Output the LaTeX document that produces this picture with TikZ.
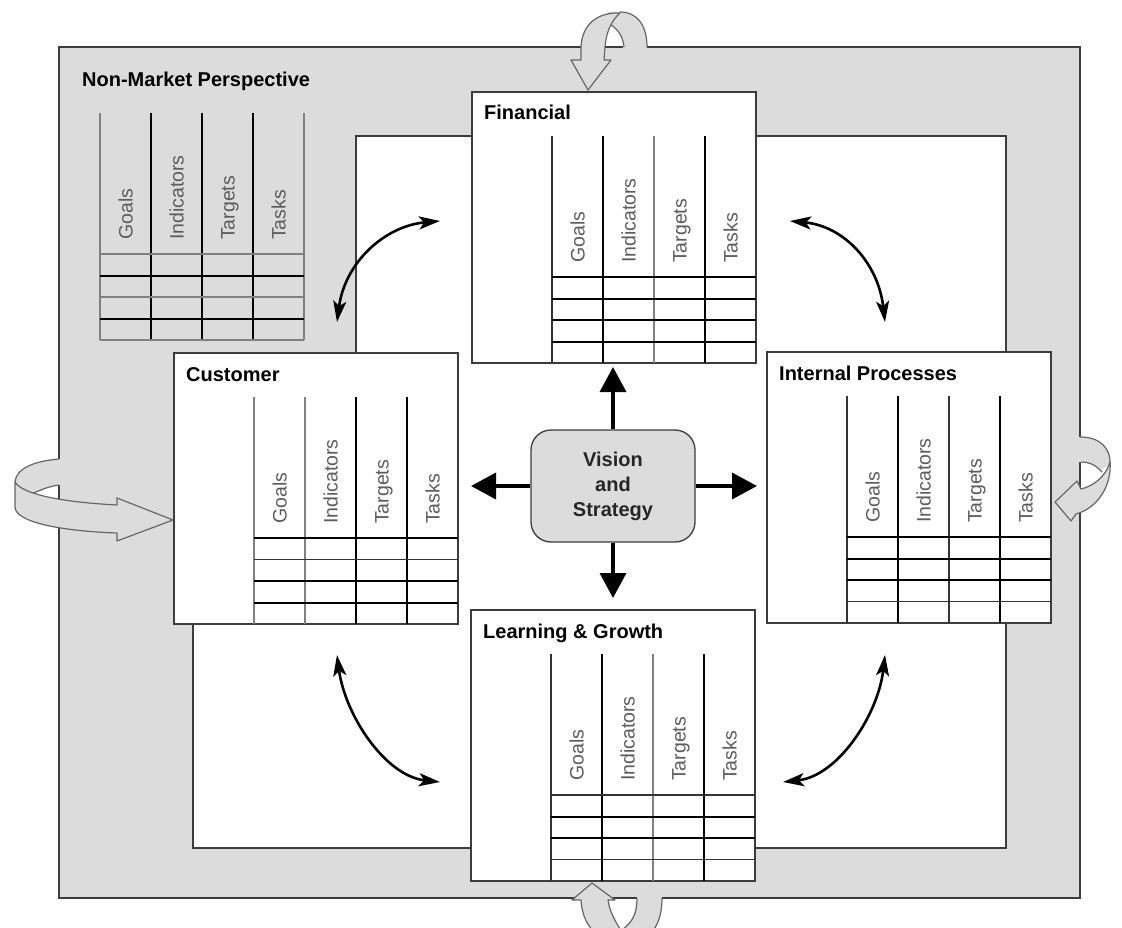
\documentclass[tikz,border=0pt]{standalone}
\usepackage{fontspec}
\setmainfont{Liberation Sans}
\usetikzlibrary{arrows.meta,calc}

\definecolor{bandgray}{HTML}{DCDCDC}
\definecolor{edge}{HTML}{3C3C3C}
\definecolor{hdr}{HTML}{5C5C5C}
\definecolor{rulelight}{HTML}{808080}
\definecolor{ribbonedge}{HTML}{666666}

\tikzset{
  band/.style={fill=bandgray, draw=edge, line width=1.5pt},
  field/.style={fill=white, draw=edge, line width=1.4pt},
  panel/.style={draw=edge, fill=white, line width=1.4pt, minimum width=284pt,
    minimum height=271pt, anchor=north west, inner sep=0pt, outer sep=0pt},
  paneltitle/.style={font=\fontsize{20}{24}\selectfont\bfseries, anchor=base west, inner sep=0pt},
  colhead/.style={font=\fontsize{19.5}{23}\selectfont, text=hdr, rotate=90, anchor=west,
    inner sep=0pt, text height=14pt, text depth=0pt},
  rl/.style={draw=rulelight, line width=1.1pt},
  rm/.style={draw=black!80, line width=1.3pt},
  rh/.style={draw=black, line width=2pt},
  bx/.style={draw=edge, line width=1.4pt},
  vision/.style={draw=edge, fill=bandgray, line width=1.3pt, rounded corners=20pt,
    minimum width=164pt, minimum height=112pt, align=center, inner sep=0pt,
    font=\fontsize{20}{25}\selectfont\bfseries, text=black!85},
  thrust/.style={draw=black, line width=3.5pt, -{Triangle[length=25pt,width=26pt]}},
  swing/.style={draw=black, line width=2.6pt,
    {Stealth[length=21pt,width=13pt,inset=5pt]}-{Stealth[length=21pt,width=13pt,inset=5pt]}},
  ribbon/.style={fill=bandgray, draw=ribbonedge, line width=1.2pt, line join=round},
  ribbonfill/.style={fill=bandgray},
  ribbonline/.style={draw=ribbonedge, line width=1.2pt},
}

% table of a perspective: #1 name, #2,#3 top-left corner,
% #4 styles of the vertical rules, #5 styles of the horizontal rules
\newcommand\scorecard[5]{%
  \foreach \t [count=\k from 0] in {Goals,Indicators,Targets,Tasks}
    \node[colhead] (#1-\k) at ({#2+25.5+51*\k},{#3+127}) {\t};
  \foreach \i/\s in {#4}
    \draw[\s] ({#2+51*\i},{#3}) -- ({#2+51*\i},{#3+227});
  \foreach \j/\s in {#5}
    \draw[\s] ({#2},{#3+141+21.5*\j}) -- ({#2+204},{#3+141+21.5*\j});
}

\begin{document}
\begin{tikzpicture}[x=1pt,y=-1pt]
\clip (0,0) rectangle (1122,928);
\fill[white] (0,0) rectangle (1122,928);

% outer band
\draw[band] (59,47) rectangle (1080,898);

% back halves of the looping arrows
% top
\fill[ribbonfill] (608,12) -- (620,12) .. controls (637,12) and (647,25) .. (647,50)
  -- (623,50) .. controls (623,38) and (620,31) .. (610,24) -- cycle;
\draw[ribbonline] (620,12) .. controls (637,12) and (647,25) .. (647,47);
\draw[ribbonline] (624,47) .. controls (623,38) and (620,31) .. (610,24);
% left
\fill[ribbonfill] (62,459) -- (59,459) .. controls (35,461) and (16,468) .. (15,482)
  -- (15,495) -- (36,492) .. controls (45,488) and (52,486) .. (59,485) -- (62,485) -- cycle;
\draw[ribbonline] (59,459) .. controls (35,461) and (16,468) .. (15,482);
\draw[ribbonline] (30,494) -- (36,492) .. controls (45,488) and (52,486) .. (59,485);
% right
\fill[ribbonfill] (1077,437) -- (1080,437) .. controls (1100,437) and (1111,448) .. (1110,465)
  -- (1100,470) .. controls (1095,464) and (1088,462) .. (1080,462) -- (1077,462) -- cycle;
\draw[ribbonline] (1080,437) .. controls (1100,437) and (1111,448) .. (1110,465);
\draw[ribbonline] (1102,472) .. controls (1095,464) and (1088,462) .. (1081,462);
% bottom
\fill[ribbonfill] (630,942) .. controls (650,942) and (662,925) .. (662,895)
  -- (637,895) .. controls (637,915) and (632,922) .. (622,930) -- cycle;
\draw[ribbonline] (630,942) .. controls (650,942) and (662,925) .. (662,898);
\draw[ribbonline] (637,898) .. controls (637,915) and (632,922) .. (622,930);

% inner field
\draw[field] (356,136) -- (1006,136) -- (1006,848) -- (193,848) -- (193,500) -- (356,500) -- cycle;

% non-market perspective
\node[paneltitle] (nm-title) at (82,87) {Non-Market Perspective};
\scorecard{nm}{100}{113}{0/rl,1/rh,2/rh,3/rh,4/rl}{0/rl,1/rh,2/rl,3/rh,4/rl}

% financial
\node[panel] (fin) at (472,92) {};
\node[paneltitle] (fin-title) at (484,120) {Financial};
\scorecard{fin}{552}{136}{0/rm,1/rh,2/rl,3/rh,4/bx}{0/rh,1/rh,2/rh,3/rh}

% customer
\node[panel] (cus) at (174,353) {};
\node[paneltitle] (cus-title) at (186,381) {Customer};
\scorecard{cus}{254}{397}{0/rl,1/rl,2/rh,3/rh,4/bx}{0/rh,1/rm,2/rh,3/rh}

% internal processes
\node[panel] (int) at (767,352) {};
\node[paneltitle] (int-title) at (779,380) {Internal Processes};
\scorecard{int}{847}{396}{0/rm,1/rh,2/rm,3/rh,4/bx}{0/rh,1/rh,2/rh,3/rm}

% learning and growth
\node[panel] (lrn) at (471,610) {};
\node[paneltitle] (lrn-title) at (483,638) {Learning \& Growth};
\scorecard{lrn}{551}{654}{0/rm,1/rh,2/rl,3/rh,4/bx}{0/rm,1/rh,2/rh,3/rm}

% vision and strategy hub
\node[vision] (vis) at (613,486) {Vision\\and\\Strategy};
\draw[thrust, shorten >=4pt] (vis.north) -- (vis.north |- fin.south);
\draw[thrust, shorten >=12pt] (vis.south) -- (vis.south |- lrn.north);
\draw[thrust, shorten >=13pt] (vis.west) -- (vis.west -| cus.east);
\draw[thrust, shorten >=10pt] (vis.east) -- (vis.east -| int.west);

% two-way links between neighbouring perspectives
\coordinate (tl-a) at (440,221);  \coordinate (tl-b) at (337,322);
\coordinate (tr-a) at (790,221);  \coordinate (tr-b) at (885,322);
\coordinate (bl-a) at (337,655);  \coordinate (bl-b) at (440,782);
\coordinate (br-a) at (885,655);  \coordinate (br-b) at (783,782);
\draw[swing] (tl-a) .. controls (385,226) and (345,262) .. (tl-b);
\draw[swing] (tr-a) .. controls (843,226) and (878,262) .. (tr-b);
\draw[swing] (bl-a) .. controls (345,715) and (385,776) .. (bl-b);
\draw[swing] (br-a) .. controls (878,715) and (838,776) .. (br-b);

% front halves of the looping arrows
\draw[ribbon] (620,13) .. controls (598,12) and (582,24) .. (581,47) -- (581,60) -- (571,60)
  -- (588,90) -- (611,60) -- (604,60) -- (605,47) .. controls (606,33) and (611,21) .. (620,13) -- cycle;
\draw[ribbon] (15,482) .. controls (22,494) and (60,502) .. (117,505) -- (117,498) -- (173,520)
  -- (117,541) -- (117,533) .. controls (60,531) and (15,522) .. (15,507) -- cycle;
\draw[ribbon] (1110,462) .. controls (1112,485) and (1098,508) .. (1076,514) -- (1071,521) -- (1055,502)
  -- (1077,481) -- (1081,489) .. controls (1094,486) and (1106,476) .. (1110,462) -- cycle;
\draw[ribbon] (581,900) .. controls (582,918) and (590,932) .. (605,940) -- (630,942)
  .. controls (620,930) and (610,915) .. (608,900) -- (615,900) -- (592,883) -- (572,900) -- cycle;
\end{tikzpicture}
\end{document}
